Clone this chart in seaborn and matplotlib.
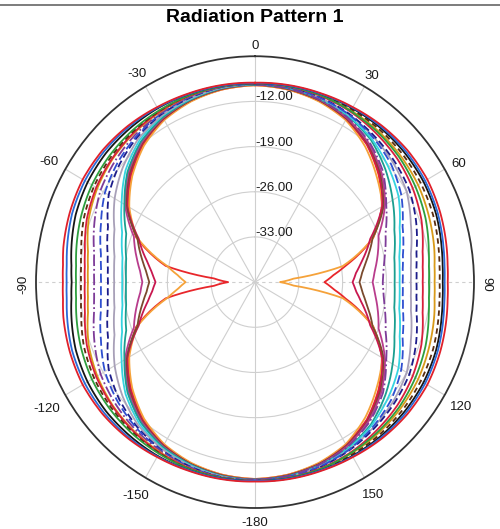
import numpy as np
import pandas as pd
import matplotlib
matplotlib.use("Agg")
import matplotlib.pyplot as plt
from matplotlib.transforms import offset_copy
from matplotlib.lines import Line2D
from matplotlib.ticker import FixedLocator
import seaborn as sns

plt.rcParams['font.family'] = ['Liberation Sans', 'DejaVu Sans']

TITLE = "Radiation Pattern 1"
# angles (deg from boresight) at which each quadrant is read
QUAD_ANGLES = [0, 10, 20, 30, 40, 50, 60, 70, 80, 85, 90]
R_TICKS = [-33, -26, -19, -12]
R_TICK_LABELS = ["-33.00", "-26.00", "-19.00", "-12.00"]
R_MIN, R_MAX = -40, -5
THETA_TICKS = [0, 30, 60, 90, 120, 150, 180, 210, 240, 270, 300, 330]
THETA_LABELS = ["0", "30", "60", "90", "120", "150", "-180", "-150", "-120", "-90", "-60", "-30"]

# gain (dB): right side (+theta) and left side (-theta) quadrants
red_R      = [-9.5, -9.7, -10.1, -10.9, -12.2, -14.2, -16.6, -19.9, -25.3, -27.4, -28.9]
red_L      = [-9.5, -9.7, -10.1, -10.9, -12.2, -14.2, -16.6, -19.8, -25.5, -33.4, -35.7]
orange_R   = [-9.5, -9.7, -10.2, -11.0, -12.6, -14.6, -16.5, -19.9, -25.8, -33.8, -36.0]
orange_L   = [-9.5, -9.7, -10.2, -11.0, -12.4, -14.4, -16.8, -20.0, -25.8, -27.6, -28.9]
crimson_R  = [-9.4, -9.6, -10.0, -10.8, -12.1, -14.0, -16.5, -20.4, -22.8, -23.8, -24.4]
crimson_L  = [-9.4, -9.6, -10.0, -10.8, -12.0, -14.0, -16.4, -20.2, -22.6, -23.5, -24.1]
brown_R    = [-9.4, -9.6, -10.0, -10.7, -11.9, -13.8, -16.2, -20.0, -22.0, -22.8, -23.3]
brown_L    = [-9.4, -9.6, -10.0, -10.7, -11.9, -13.8, -16.2, -20.0, -21.8, -22.6, -23.1]
magenta_R  = [-9.4, -9.5, -9.9, -10.6, -11.8, -13.6, -16.0, -19.0, -20.2, -20.8, -21.2]
magenta_L  = [-9.4, -9.5, -9.9, -10.6, -11.8, -13.6, -16.0, -19.4, -20.9, -21.6, -22.0]
teal_R     = [-9.4, -9.5, -9.8, -10.3, -11.2, -12.8, -14.6, -16.3, -17.4, -17.6, -17.7]
teal_L     = [-9.4, -9.5, -9.9, -10.5, -11.6, -13.4, -15.9, -18.1, -19.1, -19.3, -19.4]
cyan_R     = [-9.3, -9.4, -9.7, -10.2, -11.0, -12.2, -13.5, -15.4, -16.6, -16.8, -16.9]
cyan_L     = [-9.3, -9.4, -9.8, -10.3, -11.3, -13.0, -15.4, -17.4, -18.5, -18.7, -18.8]
gray_R     = [-9.3, -9.3, -9.6, -10.0, -10.6, -11.2, -12.0, -13.5, -14.7, -15.0, -15.1]
gray_L     = [-9.3, -9.4, -9.7, -10.2, -11.0, -12.4, -14.1, -16.1, -17.2, -17.4, -17.5]
navy_R     = [-9.3, -9.3, -9.5, -9.9, -10.4, -10.9, -11.5, -12.6, -13.8, -14.1, -14.2]
navy_L     = [-9.3, -9.3, -9.6, -10.0, -10.7, -11.7, -13.0, -15.0, -16.1, -16.4, -16.5]
blued_R    = [-9.3, -9.4, -9.6, -10.0, -10.7, -11.6, -13.0, -14.9, -16.0, -16.3, -16.4]
blued_L    = [-9.3, -9.3, -9.5, -9.9, -10.5, -11.3, -12.3, -13.8, -15.0, -15.3, -15.4]
purple_R   = [-9.4, -9.5, -9.9, -10.5, -11.6, -13.3, -15.8, -17.8, -19.0, -19.4, -19.6]
purple_L   = [-9.2, -9.3, -9.4, -9.8, -10.2, -10.8, -11.5, -12.7, -13.9, -14.2, -14.3]
gold_R     = [-9.2, -9.2, -9.2, -9.3, -9.4, -9.6, -9.9, -10.4, -10.9, -11.2, -11.3]
gold_L     = [-9.2, -9.2, -9.3, -9.6, -9.9, -10.3, -10.9, -11.7, -12.9, -13.2, -13.3]
redmid_R   = [-9.2, -9.2, -9.3, -9.5, -9.9, -10.3, -10.9, -11.7, -12.8, -13.1, -13.2]
redmid_L   = [-9.2, -9.2, -9.3, -9.5, -9.8, -10.2, -10.7, -11.4, -12.4, -12.7, -12.8]
dbrown_R   = [-9.2, -9.1, -9.1, -9.1, -9.1, -9.2, -9.4, -9.7, -10.2, -10.4, -10.5]
dbrown_L   = [-9.2, -9.2, -9.2, -9.4, -9.6, -9.9, -10.3, -10.9, -11.8, -12.1, -12.2]
green_R    = [-9.2, -9.2, -9.2, -9.4, -9.6, -9.9, -10.4, -11.0, -11.8, -12.1, -12.2]
green_L    = [-9.2, -9.2, -9.2, -9.3, -9.4, -9.6, -9.9, -10.4, -11.0, -11.3, -11.4]
black_R    = [-9.2, -9.1, -9.0, -8.9, -8.8, -8.8, -8.9, -9.2, -9.7, -9.9, -10.0]
black_L    = [-9.2, -9.1, -9.0, -8.9, -8.9, -8.9, -9.1, -9.5, -10.2, -10.55, -10.7]
blue_R     = [-9.2, -9.1, -9.0, -8.8, -8.6, -8.5, -8.6, -8.9, -9.4, -9.6, -9.7]
blue_L     = [-9.2, -9.1, -9.0, -8.8, -8.6, -8.5, -8.6, -8.9, -9.5, -9.8, -9.9]
redout_R   = [-9.1, -9.0, -8.9, -8.7, -8.4, -8.2, -8.2, -8.5, -8.9, -9.1, -9.2]
redout_L   = [-9.1, -9.0, -8.9, -8.7, -8.4, -8.2, -8.2, -8.5, -8.9, -9.2, -9.3]

CURVES = [
    ("red", red_R, red_L, "#e8262b", "-"),
    ("orange", orange_R, orange_L, "#f5a23a", "-"),
    ("crimson", crimson_R, crimson_L, "#c8184f", "-"),
    ("brown", brown_R, brown_L, "#7a4a2e", "-"),
    ("magenta", magenta_R, magenta_L, "#b83c8c", "-"),
    ("teal", teal_R, teal_L, "#1b9e8f", "-"),
    ("cyan", cyan_R, cyan_L, "#35d3e0", "-"),
    ("gray", gray_R, gray_L, "#a8a0b8", "-"),
    ("navy", navy_R, navy_L, "#1c1c8a", (0, (4, 2))),
    ("blue dashed", blued_R, blued_L, "#2f4fd0", (0, (5, 2))),
    ("purple", purple_R, purple_L, "#7d3c98", "-."),
    ("gold", gold_R, gold_L, "#d99a1a", "-"),
    ("red mid", redmid_R, redmid_L, "#d81f3c", "-"),
    ("dark brown", dbrown_R, dbrown_L, "#5a2d10", (0, (3, 2))),
    ("green", green_R, green_L, "#2e9e3e", "-"),
    ("black", black_R, black_L, "#151515", "-"),
    ("blue", blue_R, blue_L, "#2a6ad8", "-"),
    ("red outer", redout_R, redout_L, "#e0202a", "-"),
]


def full_curve(right, left):
    a = QUAD_ANGLES
    th = (list(a) + [180 - x for x in a[-2::-1]]
          + [180 + x for x in a[1:]] + [360 - x for x in a[-2::-1]])
    r = list(right) + list(right[-2::-1]) + list(left[1:]) + list(left[-2::-1])
    return np.deg2rad(th), np.array(r)


fig = plt.figure(figsize=(5.0, 5.29), dpi=100)
ax = fig.add_axes([0.072, 0.0397, 0.876, 0.854], projection='polar')
ax.set_aspect('auto')
ax.set_theta_zero_location('N')
ax.set_theta_direction(-1)
ax.set_ylim(R_MIN, R_MAX)

for name, rv, lv, col, ls in CURVES:
    th, r = full_curve(rv, lv)
    df = pd.DataFrame({"theta": th, "gain": r})
    sns.lineplot(data=df, x="theta", y="gain", ax=ax, color=col, linestyle=ls,
                 linewidth=1.3, sort=False, estimator=None, legend=False)

# draw segments between readings along the polar grid (smooth arcs)
for ln in ax.lines:
    ln.get_path()._interpolation_steps = 12

ax.set_xlabel("")
ax.set_ylabel("")
ax.set_yticks(R_TICKS)
ax.set_yticklabels([])
ax.set_xticks(np.deg2rad(THETA_TICKS))
ax.set_xticklabels([])
ax.xaxis.set_minor_locator(FixedLocator(np.deg2rad(np.arange(0, 360, 5))))
ax.tick_params(axis='x', which='major', direction='inout', length=10, width=1.0, colors='#333333')
ax.tick_params(axis='x', which='minor', direction='in', length=5, width=0.9, colors='#333333')
ax.grid(True, which='major', color='#cfcfcf', linewidth=0.8)
for i, gl in enumerate(ax.xaxis.get_gridlines()):
    if THETA_TICKS[i] in (90, 270):
        gl.set_linestyle((0, (3, 3)))
ax.spines['polar'].set_color('#333333')
ax.spines['polar'].set_linewidth(1.3)

# radial labels
for rv, lab in zip(R_TICKS, R_TICK_LABELS):
    tr = offset_copy(ax.transData, fig=fig, x=0, y=4, units='dots')
    ax.text(0, rv, lab, transform=tr, ha='left', va='center', fontsize=9.5,
            color='#1a1a1a')

# angular labels
for pos, lab in zip(THETA_TICKS, THETA_LABELS):
    rot = 0
    if lab == "90":
        rot = -90
    elif lab == "-90":
        rot = 90
    w, h = 6.8 * len(lab), 9.0
    if rot:
        w, h = h, w
    s, c = np.sin(np.deg2rad(pos)), np.cos(np.deg2rad(pos))
    pad = 8 + 0.5 * (w * abs(s) + h * abs(c))
    tr = offset_copy(ax.transData, fig=fig, x=pad * s, y=pad * c - 2.5, units='dots')
    ax.text(np.deg2rad(pos), R_MAX, lab, transform=tr, ha='center', va='center',
            rotation=rot, fontsize=9.5, color='#1a1a1a', clip_on=False)

fig.text(0.51, 1 - 18 / 529, TITLE, ha='center', va='center', fontsize=14,
         fontweight='bold')
fig.add_artist(Line2D([0, 1], [1 - 5 / 529] * 2, color='#666666', linewidth=1.2,
                      transform=fig.transFigure))

fig.savefig("out.png", dpi=100)
